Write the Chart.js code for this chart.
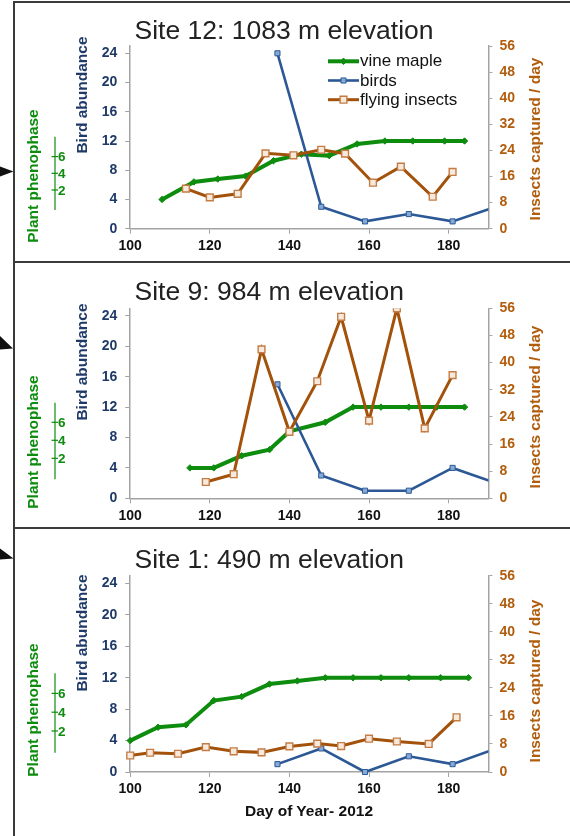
<!DOCTYPE html>
<html>
<head>
<meta charset="utf-8">
<script src="https://cdn.jsdelivr.net/npm/chart.js@4/dist/chart.umd.min.js"></script>
<style>
html,body{margin:0;padding:0;background:#fff;}
body{width:570px;height:836px;position:relative;overflow:hidden;font-family:"Liberation Sans",Arial,sans-serif;}
canvas{position:absolute;left:15px;}
.line{position:absolute;background:#3a3a3a;}
.title{position:absolute;left:134.5px;font-size:26.5px;line-height:1;color:#222;white-space:nowrap;}
.rot{position:absolute;white-space:nowrap;transform:translate(-50%,-50%) rotate(-90deg);font-weight:bold;font-size:15.5px;line-height:1;}
.xt{position:absolute;white-space:nowrap;transform:translate(-50%,-50%);font-weight:bold;font-size:15.5px;line-height:1;color:#111;}
svg{position:absolute;left:0;top:0;}
</style>
</head>
<body>
<!-- frame -->
<div class="line" style="left:13px;top:1px;width:2px;height:835px;"></div>
<div class="line" style="left:13px;top:1px;width:557px;height:2px;"></div>
<div class="line" style="left:13px;top:261px;width:557px;height:2px;"></div>
<div class="line" style="left:13px;top:527px;width:557px;height:2px;"></div>
<svg width="16" height="836">
  <polygon points="0,166.5 13.5,171.5 0,176.5" fill="#111"/>
  <polygon points="0,336 13,348.5 0,349.5" fill="#111"/>
  <polygon points="0,548.5 13.5,558.5 0,559.5" fill="#111"/>
</svg>

<canvas id="c1" width="555" height="258" style="top:3px"></canvas>
<canvas id="c2" width="555" height="263" style="top:264px"></canvas>
<canvas id="c3" width="555" height="307" style="top:529px"></canvas>

<div id="texts"></div>

<script>
// ---------- text / ticks ----------
const siteTitles = ['Site 12: 1083 m elevation', 'Site 9: 984 m elevation', 'Site 1: 490 m elevation'];
const seriesNames = ['vine maple', 'birds', 'flying insects'];
const birdAxisTitle = 'Bird abundance';
const insectAxisTitle = 'Insects captured / day';
const phenoAxisTitle = 'Plant phenophase';
const xAxisTitle = 'Day of Year- 2012';
const xTickValues = [100, 120, 140, 160, 180];
const birdTickValues = [0, 4, 8, 12, 16, 20, 24];
const insectTickValues = [0, 8, 16, 24, 32, 40, 48, 56];
const phenoTickValues = [2, 4, 6];

// ---------- Site 12 ----------
const s12MapleDays = [108, 116, 122, 129, 136, 143, 150, 157, 164, 171, 179, 184];
const s12MapleVals = [4.0, 6.4, 6.8, 7.2, 9.3, 10.2, 10.0, 11.6, 12, 12, 12, 12];
const s12BirdDays = [137, 148, 159, 170, 181, 192];
const s12BirdVals = [24, 3, 1, 2, 1, 3];
const s12InsectDays = [114, 120, 127, 134, 141, 148, 154, 161, 168, 176, 181];
const s12InsectVals = [12.3, 9.6, 10.7, 23.1, 22.5, 24.2, 23.0, 14.1, 19.0, 9.8, 17.4];

// ---------- Site 9 ----------
const s9MapleDays = [115, 121, 128, 135, 140, 149, 156, 163, 170, 177, 184];
const s9MapleVals = [4, 4, 5.6, 6.4, 8.8, 10, 12, 12, 12, 12, 12];
const s9BirdDays = [137, 148, 159, 170, 181, 192];
const s9BirdVals = [15, 3, 1, 1, 4, 2];
const s9InsectDays = [119, 126, 133, 140, 147, 153, 160, 167, 174, 181];
const s9InsectVals = [4.8, 7.1, 43.9, 19.6, 34.5, 53.5, 22.9, 56, 20.6, 36.3];

// ---------- Site 1 ----------
const s1MapleDays = [100, 107, 114, 121, 128, 135, 142, 149, 156, 163, 170, 178, 185];
const s1MapleVals = [4, 5.7, 6, 9.1, 9.6, 11.2, 11.6, 12, 12, 12, 12, 12, 12];
const s1BirdDays = [137, 148, 159, 170, 181, 192];
const s1BirdVals = [1, 3, 0, 2, 1, 3];
const s1InsectDays = [100, 105, 112, 119, 126, 133, 140, 147, 153, 160, 167, 175, 182];
const s1InsectVals = [4.7, 5.5, 5.2, 7.1, 5.9, 5.6, 7.3, 8.1, 7.4, 9.5, 8.7, 8.0, 15.6];

// ---------- styles ----------
const FONT = '"Liberation Sans", Arial, sans-serif';
const GREEN = '#0d8c0d';
const BLUE = '#2C5896';
const BLUE_TXT = '#1F3A68';
const BROWN = '#A3520C';
const BROWN_TXT = '#B15D0E';
const AXIS = '#a3a3a3';

Chart.defaults.font.family = FONT;

const pts = (xs, ys) => xs.map((x, i) => ({x: x, y: ys[i]}));
const setTicks = vals => scale => { scale.ticks = vals.map(v => ({value: v})); };

const insideLegend = {
  id: 'insideLegend',
  afterDatasetsDraw(chart, args, o) {
    if (!o || !o.show) return;
    const ctx = chart.ctx;
    ctx.save();
    chart.data.datasets.forEach((ds, i) => {
      const y = o.y + i * o.rowH;
      ctx.strokeStyle = ds.borderColor;
      ctx.lineWidth = ds.borderWidth;
      ctx.beginPath(); ctx.moveTo(o.x, y); ctx.lineTo(o.x + o.lineW, y); ctx.stroke();
      ctx.fillStyle = ds.pointBackgroundColor;
      ctx.strokeStyle = ds.pointBorderColor;
      ctx.lineWidth = ds.pointBorderWidth;
      Chart.helpers.drawPoint(ctx, {pointStyle: ds.pointStyle, radius: ds.pointRadius, rotation: 0, borderWidth: ds.pointBorderWidth}, o.x + o.lineW / 2, y);
      ctx.fillStyle = '#111';
      ctx.font = '17px ' + FONT;
      ctx.textBaseline = 'middle';
      ctx.textAlign = 'left';
      ctx.fillText(ds.label, o.x + o.lineW + 1, y + 0.5);
    });
    ctx.restore();
  }
};

const phenoAxis = {
  id: 'phenoAxis',
  afterDraw(chart, args, o) {
    if (!o || !o.values) return;
    const ctx = chart.ctx;
    ctx.save();
    ctx.strokeStyle = GREEN;
    ctx.lineWidth = 1.2;
    ctx.beginPath(); ctx.moveTo(o.x, o.top); ctx.lineTo(o.x, o.bottom); ctx.stroke();
    ctx.font = 'bold 13.5px ' + FONT;
    ctx.fillStyle = GREEN;
    ctx.textBaseline = 'middle';
    ctx.textAlign = 'left';
    o.values.forEach(v => {
      const y = o.y0 - (v - o.values[0]) * o.step;
      ctx.beginPath(); ctx.moveTo(o.x - 3.5, y); ctx.lineTo(o.x + 3, y); ctx.stroke();
      ctx.fillText(String(v), o.x + 3, y + 1);
    });
    ctx.restore();
  }
};

function makeChart(id, data, panel) {
  const clip = {left: 6, top: 0, right: 0, bottom: 6};
  return new Chart(document.getElementById(id), {
    type: 'line',
    data: {
      datasets: [
        {label: seriesNames[0], data: data.maple, yAxisID: 'yB', order: 3,
         borderColor: GREEN, borderWidth: 4, pointStyle: 'rectRot', pointRadius: 3.2,
         pointBackgroundColor: GREEN, pointBorderColor: GREEN, pointBorderWidth: 1, clip: clip},
        {label: seriesNames[1], data: data.birds, yAxisID: 'yB', order: 2,
         borderColor: BLUE, borderWidth: 2.6, pointStyle: 'rect', pointRadius: 3.6,
         pointBackgroundColor: '#86A9D6', pointBorderColor: BLUE, pointBorderWidth: 1, clip: clip},
        {label: seriesNames[2], data: data.insects, yAxisID: 'yI', order: 1,
         borderColor: BROWN, borderWidth: 3, pointStyle: 'rect', pointRadius: 4.8,
         pointBackgroundColor: '#F7E9DC', pointBorderColor: '#C47C44', pointBorderWidth: 1.4, clip: clip}
      ]
    },
    options: {
      responsive: false,
      animation: false,
      devicePixelRatio: 1,
      layout: {padding: {left: 0, top: panel.top, right: 41.6, bottom: 0}},
      elements: {line: {tension: 0}},
      plugins: {
        legend: {display: false},
        tooltip: {enabled: false},
        insideLegend: panel.legend ? {show: true, x: 313, y: 58.3, rowH: 19.2, lineW: 31} : {show: false},
        phenoAxis: {values: phenoTickValues, x: 40, top: panel.pTop, bottom: panel.pBottom, y0: panel.pY0, step: panel.pStep}
      },
      scales: {
        x: {
          type: 'linear', min: 100, max: 190,
          afterBuildTicks: setTicks(xTickValues),
          afterFit: s => { s.height = panel.xH; },
          grid: {drawOnChartArea: false, drawTicks: true, tickLength: 5, color: AXIS},
          border: {display: true, color: AXIS, width: 1.5},
          ticks: {color: '#111', font: {size: 14, weight: 'bold'}, padding: 4, maxRotation: 0, autoSkip: false}
        },
        yB: {
          type: 'linear', position: 'left', min: 0, max: 25,
          afterBuildTicks: setTicks(birdTickValues),
          afterFit: s => { s.width = 115.2; },
          grid: {drawOnChartArea: false, drawTicks: true, tickLength: 5, color: AXIS},
          border: {display: true, color: AXIS, width: 1.5},
          ticks: {color: BLUE_TXT, font: {size: 14, weight: 'bold'}, padding: 8, autoSkip: false}
        },
        yI: {
          type: 'linear', position: 'right', min: 0, max: 56,
          afterBuildTicks: setTicks(insectTickValues),
          afterFit: s => { s.width = 40; },
          grid: {drawOnChartArea: false, drawTicks: true, tickLength: 4, color: AXIS},
          border: {display: true, color: AXIS, width: 1.5},
          ticks: {color: BROWN_TXT, font: {size: 14, weight: 'bold'}, padding: 7, autoSkip: false}
        }
      }
    },
    plugins: [insideLegend, phenoAxis]
  });
}

makeChart('c1', {maple: pts(s12MapleDays, s12MapleVals), birds: pts(s12BirdDays, s12BirdVals), insects: pts(s12InsectDays, s12InsectVals)},
  {top: 43, xH: 32.3, legend: true, pTop: 133.7, pBottom: 207, pY0: 187, pStep: 8.35});
makeChart('c2', {maple: pts(s9MapleDays, s9MapleVals), birds: pts(s9BirdDays, s9BirdVals), insects: pts(s9InsectDays, s9InsectVals)},
  {top: 44.3, xH: 28.7, legend: false, pTop: 138.7, pBottom: 215.3, pY0: 194.3, pStep: 9});
makeChart('c3', {maple: pts(s1MapleDays, s1MapleVals), birds: pts(s1BirdDays, s1BirdVals), insects: pts(s1InsectDays, s1InsectVals)},
  {top: 46.7, xH: 64, legend: false, pTop: 144.3, pBottom: 223.7, pY0: 202, pStep: 9.4});

// ---------- html text ----------
const texts = document.getElementById('texts');
function addText(cls, txt, style) {
  const d = document.createElement('div');
  d.className = cls;
  d.textContent = txt;
  Object.assign(d.style, style);
  texts.appendChild(d);
}
const titleTops = [16.6, 278.3, 545.9];
const birdTitleY = [94.5, 361.5, 633];
const phenoTitleY = [175.5, 441.7, 709.8];
const insectTitleY = [138.5, 407, 681];
for (let i = 0; i < 3; i++) {
  addText('title', siteTitles[i], {top: titleTops[i] + 'px'});
  addText('rot', birdAxisTitle, {left: '82px', top: birdTitleY[i] + 'px', color: BLUE_TXT});
  addText('rot', phenoAxisTitle, {left: '33px', top: phenoTitleY[i] + 'px', color: GREEN});
  addText('rot', insectAxisTitle, {left: '534.5px', top: insectTitleY[i] + 'px', color: BROWN_TXT});
}
addText('xt', xAxisTitle, {left: '309px', top: '810.7px'});
</script>
</body>
</html>
